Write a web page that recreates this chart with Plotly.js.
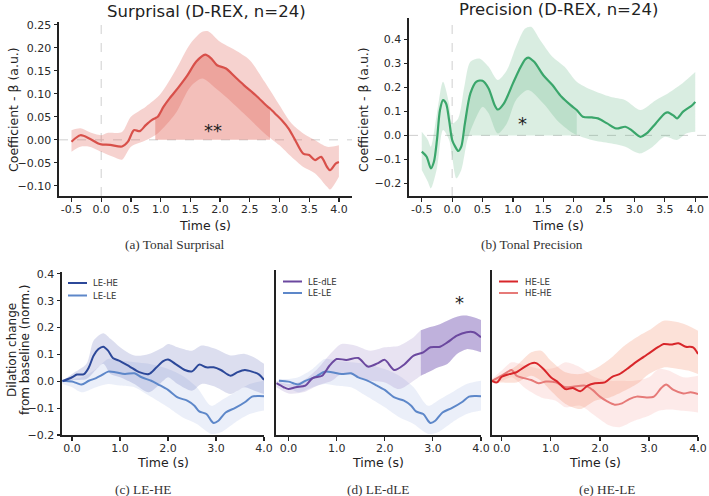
<!DOCTYPE html>
<html><head><meta charset="utf-8">
<script src="https://cdn.plot.ly/plotly-3.0.1.min.js"></script>
<style>html,body{margin:0;padding:0;background:#fff}#fig{width:709px;height:496px}</style>
</head><body><div id="fig"></div>
<script>
// ---------- (a) Tonal surprisal regression coefficient ----------
const surpT    = [-0.5,-0.35,-0.2,-0.05,0,0.15,0.35,0.45,0.55,0.65,0.75,0.85,0.91,0.95,1.05,1.15,1.3,1.45,1.6,1.75,1.85,1.95,2.1,2.25,2.4,2.6,2.8,2.84,2.95,3.05,3.15,3.25,3.4,3.5,3.6,3.7,3.8,3.85,3.95,4.0];
const surpMean = [-0.004,0.01,0.003,-0.008,-0.01,-0.011,-0.0145,-0.004,0.021,0.019,0.032,0.043,0.047,0.05,0.072,0.09,0.114,0.14,0.17,0.185,0.177,0.162,0.155,0.137,0.119,0.097,0.072,0.068,0.054,0.041,0.025,0.003,-0.03,-0.033,-0.044,-0.037,-0.059,-0.066,-0.051,-0.048];
const surpUpT  = [-0.5,-0.35,-0.2,0,0.1,0.35,0.5,0.75,1.0,1.25,1.5,1.7,1.8,2.0,2.25,2.5,2.75,3.0,3.2,3.4,3.6,3.8,4.0];
const surpUp   = [0.021,0.025,0.017,0.01,0.015,0.017,0.05,0.072,0.10,0.151,0.209,0.235,0.236,0.213,0.195,0.173,0.126,0.075,0.036,0.014,-0.001,-0.015,-0.012];
const surpLoT  = [-0.5,-0.35,-0.2,0,0.2,0.35,0.5,0.75,0.95,1.25,1.5,1.7,1.9,2.1,2.4,2.75,3.0,3.2,3.4,3.6,3.8,3.85,4.0];
const surpLo   = [-0.026,-0.015,-0.015,-0.026,-0.037,-0.043,-0.015,-0.001,0.014,0.057,0.115,0.133,0.115,0.093,0.057,0.014,-0.012,-0.037,-0.059,-0.073,-0.102,-0.108,-0.08];
const surpSig  = [0.91, 2.84];

// ---------- (b) Tonal precision regression coefficient ----------
const precT    = [-0.5,-0.42,-0.35,-0.3,-0.25,-0.2,-0.15,-0.1,-0.05,0,0.05,0.1,0.15,0.21,0.3,0.4,0.5,0.6,0.7,0.75,0.85,1.0,1.1,1.2,1.25,1.35,1.5,1.65,1.8,1.95,2.05,2.15,2.3,2.4,2.55,2.7,2.85,2.95,3.05,3.1,3.2,3.35,3.5,3.55,3.65,3.7,3.8,3.95,4.0];
const precMean = [-0.068,-0.089,-0.1375,-0.11,-0.019,0.106,0.147,0.133,0.064,-0.019,-0.047,-0.065,-0.047,0.05,0.175,0.224,0.228,0.196,0.126,0.108,0.133,0.217,0.272,0.317,0.325,0.307,0.251,0.21,0.161,0.126,0.106,0.078,0.075,0.071,0.05,0.029,0.036,0.022,0.001,-0.006,0.008,0.05,0.092,0.096,0.081,0.071,0.099,0.126,0.14];
const precUpT  = [-0.5,-0.4,-0.35,-0.25,-0.15,-0.05,0,0.1,0.2,0.3,0.45,0.6,0.75,0.9,1.05,1.2,1.3,1.45,1.65,1.85,2.05,2.3,2.6,2.85,3.1,3.35,3.55,3.75,3.9,4.0];
const precUp   = [0.015,-0.019,-0.047,0.092,0.224,0.133,0.05,0.071,0.203,0.307,0.321,0.286,0.231,0.272,0.369,0.446,0.453,0.397,0.328,0.286,0.224,0.189,0.161,0.147,0.106,0.147,0.175,0.21,0.242,0.265];
const precLoT  = [-0.5,-0.4,-0.35,-0.25,-0.15,-0.05,0,0.07,0.15,0.25,0.35,0.5,0.6,0.75,0.9,1.05,1.25,1.5,1.75,2.0,2.3,2.6,2.85,3.0,3.1,3.3,3.5,3.7,3.85,4.0];
const precLo   = [-0.144,-0.193,-0.221,-0.1375,0.022,-0.019,-0.089,-0.179,-0.144,-0.019,0.05,0.119,0.092,0.008,0.05,0.147,0.189,0.133,0.057,0.008,-0.019,-0.033,-0.047,-0.068,-0.075,-0.047,-0.006,-0.019,0.008,0.015];
const precSig  = [0.21, 2.05];

// ---------- (c) LE-HE vs LE-LE pupil dilation ----------
const leheT     = [-0.2,0,0.1,0.25,0.35,0.45,0.55,0.65,0.75,0.85,1.0,1.2,1.4,1.6,1.75,1.9,2.0,2.15,2.35,2.5,2.65,2.8,2.95,3.1,3.3,3.45,3.6,3.75,3.9,4.0];
const leheMean  = [0,0.015,0.025,0.027,0.052,0.096,0.12,0.129,0.114,0.087,0.075,0.055,0.034,0.027,0.05,0.075,0.081,0.065,0.042,0.037,0.062,0.052,0.052,0.042,0.021,0.034,0.042,0.036,0.025,0.005];
const leheBandT = [-0.2,0,0.3,0.45,0.65,0.8,1.0,1.3,1.6,1.9,2.0,2.2,2.5,2.7,3.0,3.3,3.6,3.8,4.0];
const leheUp    = [0,0.027,0.065,0.152,0.179,0.158,0.127,0.096,0.102,0.127,0.139,0.127,0.114,0.133,0.12,0.096,0.102,0.089,0.065];
const leheLo    = [0,0.005,0.009,0.034,0.065,0.027,0.015,-0.01,-0.041,0.002,0.015,-0.01,-0.035,-0.01,-0.022,-0.047,-0.022,-0.035,-0.047];

const leleT     = [-0.2,0,0.1,0.2,0.35,0.5,0.6,0.75,0.9,1.1,1.3,1.45,1.65,1.8,2.0,2.2,2.4,2.55,2.65,2.8,2.9,2.95,3.05,3.2,3.4,3.6,3.75,3.9,4.0];
const leleMean  = [0.002,-0.001,-0.007,-0.012,0.002,0.012,0.021,0.036,0.034,0.027,0.03,0.015,0.002,-0.012,-0.032,-0.06,-0.072,-0.091,-0.112,-0.122,-0.147,-0.155,-0.147,-0.116,-0.099,-0.078,-0.057,-0.055,-0.056];
const leleBandT = [-0.2,0,0.2,0.5,0.75,1.0,1.3,1.6,2.0,2.3,2.6,2.9,3.1,3.4,3.7,4.0];
const leleUp    = [0.009,0.009,0.015,0.046,0.083,0.077,0.071,0.065,0.046,0.021,-0.022,-0.091,-0.072,-0.041,-0.01,0.002];
const leleLo    = [-0.01,-0.022,-0.041,-0.022,-0.01,-0.016,-0.022,-0.053,-0.097,-0.134,-0.159,-0.196,-0.19,-0.153,-0.122,-0.109];

// ---------- (d) LE-dLE vs LE-LE ----------
const ledleT     = [-0.25,-0.1,0,0.15,0.35,0.5,0.7,0.85,1.0,1.2,1.45,1.65,1.85,2.0,2.2,2.4,2.6,2.8,2.95,3.15,3.3,3.5,3.7,3.85,4.0];
const ledleMean  = [-0.007,-0.022,-0.029,-0.022,-0.016,0.012,0.021,0.058,0.083,0.08,0.087,0.055,0.067,0.08,0.042,0.062,0.096,0.108,0.127,0.129,0.145,0.17,0.183,0.183,0.164];
const ledleBandT = [-0.25,0,0.3,0.6,0.9,1.1,1.4,1.7,2.0,2.3,2.6,2.75,2.9,3.1,3.3,3.5,3.7,4.0];
const ledleUp    = [0.002,-0.01,0.002,0.046,0.108,0.139,0.133,0.114,0.127,0.133,0.164,0.19,0.2,0.21,0.226,0.241,0.245,0.229];
const ledleLo    = [-0.022,-0.045,-0.041,-0.016,0.002,0.027,0.021,0.002,-0.004,-0.029,0.002,0.021,0.034,0.052,0.065,0.102,0.12,0.108];
const ledleSig   = [2.75, 4.0];

// ---------- (e) HE-LE vs HE-HE ----------
const heleT     = [-0.2,-0.1,0,0.15,0.3,0.45,0.6,0.7,0.85,1.0,1.15,1.3,1.45,1.6,1.75,1.9,2.1,2.25,2.4,2.55,2.7,2.9,3.05,3.2,3.3,3.45,3.6,3.75,3.9,4.0];
const heleMean  = [0.002,-0.004,0.017,0.027,0.034,0.052,0.067,0.068,0.046,0.015,-0.004,-0.029,-0.025,-0.037,-0.016,-0.007,-0.004,0.017,0.027,0.046,0.067,0.092,0.111,0.129,0.139,0.137,0.142,0.129,0.127,0.102];
const heleBandT = [-0.2,0,0.3,0.6,0.8,1.0,1.3,1.6,1.9,2.2,2.5,2.8,3.0,3.3,3.6,3.8,4.0];
const heleUp    = [0.005,0.027,0.058,0.108,0.114,0.077,0.034,0.027,0.046,0.083,0.133,0.17,0.19,0.226,0.22,0.207,0.189];
const heleLo    = [-0.004,-0.004,-0.004,0.021,0.002,-0.035,-0.084,-0.103,-0.072,-0.06,-0.035,-0.004,0.027,0.052,0.046,0.04,0.027];

const heheT     = [-0.2,0,0.2,0.3,0.45,0.6,0.75,0.9,1.1,1.3,1.45,1.7,1.85,2.0,2.15,2.3,2.45,2.6,2.75,2.95,3.1,3.25,3.35,3.5,3.7,3.85,4.0];
const heheMean  = [0.002,0.021,0.042,0.021,0.012,0.005,-0.007,-0.001,-0.004,-0.022,-0.02,-0.016,-0.032,-0.057,-0.075,-0.087,-0.082,-0.066,-0.057,-0.06,-0.057,-0.025,-0.012,-0.032,-0.045,-0.041,-0.047];
const heheBandT = [-0.2,0,0.2,0.5,0.8,1.1,1.3,1.6,1.9,2.2,2.4,2.7,3.0,3.2,3.4,3.7,4.0];
const heheUp    = [0.009,0.04,0.071,0.058,0.046,0.052,0.071,0.052,0.015,0.002,0.002,0.002,0.015,0.046,0.04,0.015,0.021];
const heheLo    = [-0.004,0.002,0.015,-0.029,-0.06,-0.072,-0.097,-0.091,-0.128,-0.165,-0.171,-0.147,-0.128,-0.11,-0.105,-0.11,-0.116];

// ---------- tick labels ----------
const topXVals   = [-0.5,0,0.5,1,1.5,2,2.5,3,3.5,4];
const topXText   = ['-0.5','0.0','0.5','1.0','1.5','2.0','2.5','3.0','3.5','4.0'];
const surpYVals  = [-0.1,-0.05,0,0.05,0.1,0.15,0.2,0.25];
const surpYText  = ['\u22120.10','\u22120.05','0.00','0.05','0.10','0.15','0.20','0.25'];
const precYVals  = [-0.2,-0.1,0,0.1,0.2,0.3,0.4];
const precYText  = ['\u22120.2','\u22120.1','0.0','0.1','0.2','0.3','0.4'];
const botXVals   = [0,1,2,3,4];
const botXText   = ['0.0','1.0','2.0','3.0','4.0'];
const botYVals   = [-0.2,-0.1,0,0.1,0.2,0.3,0.4];
const botYText   = ['\u22120.2','\u22120.1','0.0','0.1','0.2','0.3','0.4'];

// ---------- helpers ----------
const W = 709, H = 496;
const px = v => v / W;            // pixel column -> paper x
const py = v => 1 - v / H;        // pixel row -> paper y
const SANS = 'DejaVu Sans, sans-serif';
const SERIF = 'Liberation Serif, DejaVu Serif, serif';
const INK = '#222222';

function bandTraces(xu, yu, xl, yl, color, ax) {
  return [
    {x: xl, y: yl, xaxis: 'x' + ax, yaxis: 'y' + ax, mode: 'lines',
     line: {width: 0, shape: 'spline', smoothing: 0.8}, hoverinfo: 'skip', showlegend: false},
    {x: xu, y: yu, xaxis: 'x' + ax, yaxis: 'y' + ax, mode: 'lines', fill: 'tonexty', fillcolor: color,
     line: {width: 0, shape: 'spline', smoothing: 0.8}, hoverinfo: 'skip', showlegend: false}
  ];
}
function lineTrace(x, y, color, ax, name, w) {
  return {x: x, y: y, xaxis: 'x' + ax, yaxis: 'y' + ax, mode: 'lines', name: name,
          line: {color: color, width: w || 2, shape: 'spline', smoothing: 0.8}, showlegend: false};
}
function pick(x, y, lo, hi) {
  const xs = [], ys = [];
  x.forEach((v, i) => { if (v >= lo - 1e-9 && v <= hi + 1e-9) { xs.push(v); ys.push(y[i]); } });
  return [xs, ys];
}
// area between zero and the mean over the significant window
function clusterTraces(x, y, win, color, ax) {
  const [xs, ys] = pick(x, y, win[0], win[1]);
  return [
    {x: xs, y: xs.map(() => 0), xaxis: 'x' + ax, yaxis: 'y' + ax, mode: 'lines',
     line: {width: 0}, hoverinfo: 'skip', showlegend: false},
    {x: xs, y: ys, xaxis: 'x' + ax, yaxis: 'y' + ax, mode: 'lines', fill: 'tonexty', fillcolor: color,
     line: {width: 0, shape: 'spline', smoothing: 0.8}, hoverinfo: 'skip', showlegend: false}
  ];
}

const RED_A = '#d8504a', GREEN_B = '#3aa66b';
const BLUE_D = '#2c4899', BLUE_L = '#5d87c9', PURPLE = '#6b489f';
const RED_E = '#d8262a', SALMON = '#e67a78';

const traces = [
  ...bandTraces(surpUpT, surpUp, surpLoT, surpLo, 'rgba(224,95,82,0.28)', ''),
  ...clusterTraces(surpT, surpMean, surpSig, 'rgba(224,95,82,0.40)', ''),
  lineTrace(surpT, surpMean, RED_A, '', 'Surprisal', 2.2),

  ...bandTraces(precUpT, precUp, precLoT, precLo, 'rgba(75,170,112,0.21)', '2'),
  ...clusterTraces(precT, precMean, precSig, 'rgba(75,170,112,0.20)', '2'),
  lineTrace(precT, precMean, GREEN_B, '2', 'Precision', 2.2),

  ...bandTraces(leleBandT, leleUp, leleBandT, leleLo, 'rgba(100,135,205,0.13)', '3'),
  ...bandTraces(leheBandT, leheUp, leheBandT, leheLo, 'rgba(70,80,170,0.19)', '3'),
  lineTrace(leleT, leleMean, BLUE_L, '3', 'LE-LE'),
  lineTrace(leheT, leheMean, BLUE_D, '3', 'LE-HE'),

  ...bandTraces(leleBandT, leleUp, leleBandT, leleLo, 'rgba(100,135,205,0.13)', '4'),
  ...bandTraces(ledleBandT, ledleUp, ledleBandT, ledleLo, 'rgba(120,90,180,0.17)', '4'),
  ...(() => {
    const [ux, uy] = pick(ledleBandT, ledleUp, ledleSig[0], ledleSig[1]);
    const [lx, ly] = pick(ledleBandT, ledleLo, ledleSig[0], ledleSig[1]);
    return bandTraces(ux, uy, lx, ly, 'rgba(120,90,180,0.36)', '4');
  })(),
  lineTrace(leleT, leleMean, BLUE_L, '4', 'LE-LE'),
  lineTrace(ledleT, ledleMean, PURPLE, '4', 'LE-dLE'),

  ...bandTraces(heheBandT, heheUp, heheBandT, heheLo, 'rgba(240,115,110,0.15)', '5'),
  ...bandTraces(heleBandT, heleUp, heleBandT, heleLo, 'rgba(242,130,90,0.24)', '5'),
  lineTrace(heheT, heheMean, SALMON, '5', 'HE-HE'),
  lineTrace(heleT, heleMean, RED_E, '5', 'HE-LE')
];

function axisBase(extra) {
  return Object.assign({
    showline: true, linecolor: INK, linewidth: 2, mirror: false,
    ticks: 'outside', ticklen: 3.5, tickwidth: 1.2, tickcolor: INK,
    showgrid: false, zeroline: false, fixedrange: true,
    tickfont: {family: SANS, size: 11, color: '#2a2a2a'}
  }, extra);
}
// x axes keep their tick labels tucked close to the spine
const xAxis = extra => axisBase(Object.assign({ticklabelstandoff: -2}, extra));

const layout = {
  width: W, height: H, paper_bgcolor: '#fff', plot_bgcolor: 'rgba(0,0,0,0)',
  margin: {l: 0, r: 0, t: 0, b: 0}, showlegend: false,
  xaxis:  xAxis({domain: [px(59), px(352)], range: [-0.71, 4.22], anchor: 'y',
                 tickvals: topXVals, ticktext: topXText}),
  yaxis:  axisBase({domain: [py(196), py(22)], range: [-0.122, 0.256], anchor: 'x',
                    tickvals: surpYVals, ticktext: surpYText}),
  xaxis2: xAxis({domain: [px(409), px(708)], range: [-0.71, 4.21], anchor: 'y2',
                 tickvals: topXVals, ticktext: topXText}),
  yaxis2: axisBase({domain: [py(196), py(18)], range: [-0.253, 0.49], anchor: 'x2',
                    tickvals: precYVals, ticktext: precYText}),
  xaxis3: xAxis({domain: [px(62), px(264)], range: [-0.21, 4.0], anchor: 'y3',
                 tickvals: botXVals, ticktext: botXText}),
  yaxis3: axisBase({domain: [py(435), py(272)], range: [-0.2, 0.407], anchor: 'x3',
                    tickvals: botYVals, ticktext: botYText}),
  xaxis4: xAxis({domain: [px(276), px(481)], range: [-0.26, 4.0], anchor: 'y4',
                 tickvals: botXVals, ticktext: botXText}),
  yaxis4: axisBase({domain: [py(435), py(270)], range: [-0.2, 0.415], anchor: 'x4',
                    showticklabels: false, ticks: ''}),
  xaxis5: xAxis({domain: [px(492), px(698)], range: [-0.2, 4.0], anchor: 'y5',
                 tickvals: botXVals, ticktext: botXText}),
  yaxis5: axisBase({domain: [py(435), py(270)], range: [-0.2, 0.415], anchor: 'x5',
                    showticklabels: false, ticks: ''}),
  shapes: [],
  annotations: []
};

// dashed reference lines at t = 0 and beta = 0 in the regression panels
['', '2'].forEach(a => {
  layout.shapes.push({type: 'line', layer: 'below', xref: 'x' + a, yref: 'y' + a + ' domain',
                      x0: 0, x1: 0, y0: 0, y1: 1, line: {color: '#cfcfcf', width: 1, dash: 'dash'}});
  layout.shapes.push({type: 'line', layer: 'below', xref: 'x' + a + ' domain', yref: 'y' + a,
                      x0: 0, x1: 1, y0: 0, y1: 0, line: {color: '#cfcfcf', width: 1, dash: 'dash'}});
});

// free text placed at pixel positions (centre anchored)
function label(text, x, y, font, angle) {
  layout.annotations.push({text: text, xref: 'paper', yref: 'paper', x: px(x), y: py(y),
                           xanchor: 'center', yanchor: 'middle', showarrow: false,
                           textangle: angle || 0, font: font});
}
const titleFont = {family: SANS, size: 16.5, color: '#222'};
const axFont = {family: SANS, size: 12.5, color: '#222'};
const axFontSm = {family: SANS, size: 12, color: '#222'};
const capFont = {family: SERIF, size: 13.3, color: '#333'};

// panel titles
label('Surprisal (D-REX, n=24)', 206, 12, titleFont);
label('Precision (D-REX, n=24)', 558, 10, titleFont);

// axis titles
label('Time (s)', 205, 225, axFont);
label('Time (s)', 558, 225, axFont);
label('Time (s)', 163, 462, axFont);
label('Time (s)', 378, 462, axFont);
label('Time (s)', 595, 462, axFont);
label('Coefficient - \u03b2 (a.u.)', 13, 110, axFont, -90);
label('Coefficient - \u03b2 (a.u.)', 363, 110, axFont, -90);
label('Dilation change', 12, 350, axFontSm, -90);
label('from baseline (norm.)', 25, 350, axFontSm, -90);

// sub-figure captions
label('(a) Tonal Surprisal', 175, 244, capFont);
label('(b) Tonal Precision', 532, 244, capFont);
label('(c) LE-HE', 143, 489, capFont);
label('(d) LE-dLE', 378, 489, capFont);
label('(e) HE-LE', 607, 489, capFont);

// significance markers
layout.annotations.push(
  {text: '**', xref: 'x', yref: 'y', x: 1.88, y: 0.028, yshift: -4, showarrow: false,
   font: {family: SANS, size: 18, color: '#222'}},
  {text: '*', xref: 'x2', yref: 'y2', x: 1.15, y: 0.057, yshift: -2, showarrow: false,
   font: {family: SANS, size: 18, color: '#222'}},
  {text: '*', xref: 'x4', yref: 'y4', x: 3.56, y: 0.297, yshift: -1, showarrow: false,
   font: {family: SANS, size: 18, color: '#222'}}
);

// hand-placed legends
function legend(x0, x1, tx, rows) {
  rows.forEach(r => {
    layout.shapes.push({type: 'line', xref: 'paper', yref: 'paper', x0: px(x0), x1: px(x1),
                        y0: py(r[2]), y1: py(r[2]), line: {color: r[1], width: 2}});
    layout.annotations.push({text: r[0], xref: 'paper', yref: 'paper', x: px(tx), y: py(r[2]),
                             xanchor: 'left', yanchor: 'middle', showarrow: false,
                             font: {family: SANS, size: 8.5, color: '#333'}});
  });
}
legend(68, 87, 91, [['LE-HE', BLUE_D, 283], ['LE-LE', BLUE_L, 295.5]]);
legend(283, 302, 306, [['LE-dLE', PURPLE, 281.5], ['LE-LE', BLUE_L, 293]]);
legend(499, 518, 523, [['HE-LE', RED_E, 281.5], ['HE-HE', SALMON, 293]]);

Plotly.newPlot('fig', traces, layout, {staticPlot: true, displayModeBar: false});
</script></body></html>
